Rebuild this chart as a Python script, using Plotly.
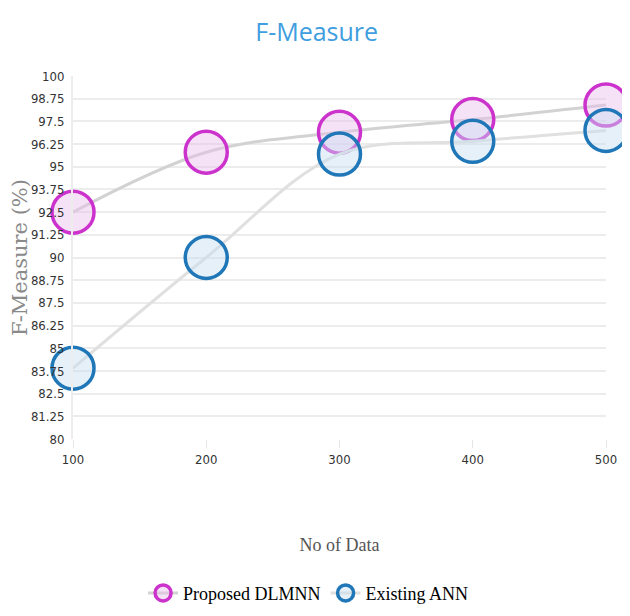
import plotly.graph_objects as go

x_data = [100, 200, 300, 400, 500]
proposed_dlmnn = [92.5, 95.8, 96.9, 97.6, 98.4]
existing_ann = [83.9, 90.0, 95.7, 96.4, 97.0]
y_ticks = [80, 81.25, 82.5, 83.75, 85, 86.25, 87.5, 88.75, 90, 91.25, 92.5, 93.75, 95, 96.25, 97.5, 98.75, 100]
y_tick_text = ["80", "81.25", "82.5", "83.75", "85", "86.25", "87.5", "88.75", "90", "91.25", "92.5",
               "93.75", "95", "96.25", "97.5", "98.75", "100"]

tick_font = dict(family="DejaVu Sans Condensed, Liberation Sans Narrow, sans-serif", size=13, color="#333")

fig = go.Figure()
fig.add_trace(go.Scatter(
    x=x_data, y=proposed_dlmnn, name="Proposed DLMNN", mode="lines+markers",
    line=dict(color="#d2d2d2", width=3, shape="spline"),
    marker=dict(size=42, color="rgba(235,190,235,0.45)", line=dict(color="#cc33cc", width=3.5)),
    cliponaxis=False,
))
fig.add_trace(go.Scatter(
    x=x_data, y=existing_ann, name="Existing ANN", mode="lines+markers",
    line=dict(color="#e0e0e0", width=3, shape="spline"),
    marker=dict(size=42, color="rgba(200,222,242,0.45)", line=dict(color="#1f77b8", width=3.5)),
    cliponaxis=False,
))

fig.update_layout(
    width=630, height=616,
    paper_bgcolor="white", plot_bgcolor="white",
    margin=dict(l=65, r=32, t=68, b=183),
    title=dict(text="F-Measure", x=0.49, xanchor="center", y=0.961, yanchor="middle",
               font=dict(family="Open Sans, Noto Sans, sans-serif", size=25, color="#3f9ee0")),
    xaxis=dict(range=[100, 500], tickvals=x_data, ticks="outside", ticklen=8, tickcolor="#e6e6e6",
               showgrid=False, zeroline=False, showline=False, automargin=False,
               tickfont=tick_font,
               title=dict(text="No of Data", standoff=72,
                          font=dict(family="Liberation Serif, Times New Roman, serif", size=18, color="#555"))),
    yaxis=dict(range=[80, 100], tickvals=y_ticks, ticktext=y_tick_text, showgrid=True,
               gridcolor="#ececec", gridwidth=2, zeroline=False, showline=True, linecolor="#ededed",
               linewidth=2, ticks="", ticklabelstandoff=4, automargin=False,
               tickfont=tick_font,
               title=dict(text="F-Measure (%)", standoff=0,
                          font=dict(family="DejaVu Serif, serif", size=21, color="#8a8a8a"))),
    legend=dict(orientation="h", x=0.442, xanchor="center", y=-0.374, yanchor="top",
                font=dict(family="Liberation Serif, Times New Roman, serif", size=18, color="#000"),
                itemsizing="trace"),
    showlegend=True,
)

fig.write_html("out.html")
